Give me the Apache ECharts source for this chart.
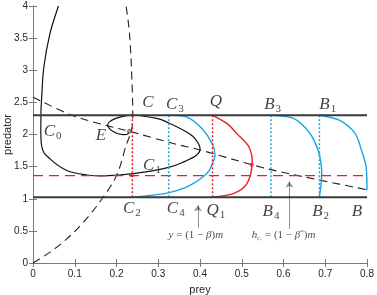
<!DOCTYPE html>
<html>
<head>
<meta charset="utf-8">
<script src="https://cdn.jsdelivr.net/npm/echarts@6/dist/echarts.min.js"></script>
<style>
  html, body { margin: 0; padding: 0; background: #fff; }
  #chart { width: 377px; height: 295px; }
</style>
</head>
<body>
<div id="chart"></div>
<script>
// levels
var upperLevel = 2.3;
var lowerLevel = 1.025;
var redLevel = 1.36;

// trajectory C0 -> C1 -> C -> E
var trajC0 = [[0.061, 4.0], [0.041, 3.58], [0.026, 3.05], [0.0205, 2.54], [0.019, 2.3], [0.021, 1.81],
  [0.041, 1.62], [0.081, 1.44], [0.129, 1.37], [0.168, 1.355], [0.24, 1.39], [0.32, 1.48],
  [0.36, 1.57], [0.392, 1.68], [0.4, 1.79], [0.386, 1.95], [0.368, 2.04], [0.325, 2.18],
  [0.296, 2.25], [0.24, 2.3], [0.208, 2.27], [0.184, 2.2], [0.18, 2.12], [0.2, 2.02], [0.224, 2.0],
  [0.23, 2.04]];

// nullclines (dashed)
var nullDecr = [[0, 2.58], [0.093, 2.3], [0.176, 2.14], [0.231, 2.05], [0.336, 1.86], [0.4, 1.76],
  [0.524, 1.53], [0.592, 1.42], [0.687, 1.29], [0.8, 1.14]];
var nullRise = [[0, 0], [0.041, 0.17], [0.081, 0.375], [0.12, 0.63], [0.16, 0.95], [0.2, 1.36],
  [0.223, 1.83], [0.235, 2.05], [0.239, 2.3], [0.236, 3.0], [0.231, 3.58], [0.223, 4.0]];

// impulsive orbits
var curveC3 = [[0.325, 2.3], [0.369, 2.27], [0.405, 2.09], [0.429, 1.86], [0.436, 1.68], [0.428, 1.52],
  [0.416, 1.39], [0.376, 1.21], [0.328, 1.1], [0.28, 1.05], [0.24, 1.025]];
var curveQ = [[0.43, 2.3], [0.465, 2.17], [0.489, 2.01], [0.517, 1.81], [0.525, 1.55], [0.512, 1.23],
  [0.48, 1.08], [0.432, 1.025]];
var curveB3 = [[0.57, 2.3], [0.624, 2.25], [0.663, 2.02], [0.683, 1.75], [0.691, 1.49], [0.691, 1.29],
  [0.686, 1.025]];
var curveB1 = [[0.686, 2.3], [0.735, 2.22], [0.771, 2.02], [0.787, 1.75], [0.798, 1.49], [0.8, 1.13]];

var redDotX = [0.238, 0.43];
var blueDotX = [0.325, 0.57, 0.686];

var pointE = [0.231, 2.05];
var redMarks = [[0.524, 1.53]];
var redArrowMark = [[0.238, 1.38]];

var labels = [
  ['C', '0', 0.047, 2.05], ['E', '', 0.163, 1.99], ['C', '', 0.275, 2.5], ['C', '3', 0.34, 2.47],
  ['Q', '', 0.438, 2.52], ['B', '3', 0.574, 2.47], ['B', '1', 0.706, 2.47], ['C', '1', 0.285, 1.52],
  ['C', '2', 0.237, 0.85], ['C', '4', 0.342, 0.85], ['Q', '1', 0.438, 0.82], ['B', '4', 0.57, 0.8],
  ['B', '2', 0.689, 0.8], ['B', '', 0.776, 0.8]
];
var formulas = [
  ['{i|y}{r| = (1 − }{i|β}{r|)}{i|m}', 0.39, 0.43],
  ['{i|h}{ss|C₁}{r| = (1 − }{i|β}{sup|*}{r|)}{i|m}', 0.6, 0.43]
];
var arrows = [[[0.395, 0.55], [0.395, 0.9]], [[0.614, 0.53], [0.614, 1.27]]];

var blue = '#1ba3e6';
var red = '#ec1c24';
var serif = 'Liberation Serif';

function hline(y) { return [[0, y], [0.8, y]]; }
function vline(x) { return [[x, upperLevel], [x, lowerLevel]]; }

function lineSeries(data, color, width, type) {
  return {
    type: 'line', data: data, symbol: 'none', silent: true,
    lineStyle: { color: color, width: width, type: type || 'solid' }, z: 3
  };
}

// smooth curve through the read points (Catmull-Rom), positioned by the axes
function curveSeries(points, color, width, dash) {
  return {
    type: 'custom', silent: true, z: 3, data: points,
    renderItem: function (params, api) {
      if (params.dataIndex !== 0) return;
      var p = points.map(function (d) { return api.coord(d); });
      var path = 'M' + p[0][0] + ' ' + p[0][1];
      for (var i = 0; i < p.length - 1; i++) {
        var p0 = p[i - 1] || p[i], p1 = p[i], p2 = p[i + 1], p3 = p[i + 2] || p[i + 1];
        var c1x = p1[0] + (p2[0] - p0[0]) / 6, c1y = p1[1] + (p2[1] - p0[1]) / 6;
        var c2x = p2[0] - (p3[0] - p1[0]) / 6, c2y = p2[1] - (p3[1] - p1[1]) / 6;
        path += ' C' + c1x + ' ' + c1y + ' ' + c2x + ' ' + c2y + ' ' + p2[0] + ' ' + p2[1];
      }
      return {
        type: 'path', shape: { pathData: path },
        style: { fill: null, stroke: color, lineWidth: width, lineDash: dash || null }
      };
    }
  };
}

var series = [];
series.push(lineSeries(hline(redLevel), red, 1.4, [10, 6]));
series.push(curveSeries(nullDecr, '#222', 1.1, [8, 5]));
series.push(curveSeries(nullRise, '#222', 1.1, [8, 5]));
redDotX.forEach(function (x) { series.push(lineSeries(vline(x), red, 1.5, [2, 2])); });
blueDotX.forEach(function (x) { series.push(lineSeries(vline(x), blue, 1.5, [2, 2])); });
series.push(lineSeries(hline(upperLevel), '#3a3a3a', 2));
series.push(lineSeries(hline(lowerLevel), '#3a3a3a', 2));
series.push(curveSeries(trajC0, '#111', 1.2));
series.push(curveSeries(curveC3, blue, 1.4));
series.push(curveSeries(curveQ, red, 1.4));
series.push(curveSeries(curveB3, blue, 1.4));
series.push(curveSeries(curveB1, blue, 1.4));

series.push({
  type: 'scatter', data: [pointE], symbol: 'circle', symbolSize: 4, silent: true, z: 5,
  itemStyle: { color: '#888', borderColor: '#333', borderWidth: 0.6 }
});
series.push({
  type: 'scatter', data: redMarks, symbol: 'circle', symbolSize: 4, silent: true, z: 5,
  itemStyle: { color: red }
});
series.push({
  type: 'scatter', data: redArrowMark, symbol: 'triangle', symbolSize: 5, silent: true, z: 5,
  itemStyle: { color: red }
});

series.push({
  type: 'lines', coordinateSystem: 'cartesian2d', silent: true, z: 4,
  symbol: ['none', 'arrow'], symbolSize: 6,
  lineStyle: { color: '#222', width: 1 },
  data: arrows.map(function (a) { return { coords: a }; })
});

series.push({
  type: 'scatter', symbolSize: 0, silent: true, z: 6,
  data: labels.map(function (l) { return { value: [l[2], l[3]], name: l[0], sub: l[1] }; }),
  label: {
    show: true, position: 'inside',
    formatter: function (p) {
      return '{m|' + p.data.name + '}' + (p.data.sub ? '{s|' + p.data.sub + '}' : '');
    },
    rich: {
      m: { fontFamily: serif, fontStyle: 'italic', fontSize: 17, color: '#111' },
      s: { fontFamily: serif, fontSize: 11, color: '#111', padding: [10, 0, 0, 1] }
    }
  }
});
series.push({
  type: 'scatter', symbolSize: 0, silent: true, z: 6,
  data: formulas.map(function (f) { return { value: [f[1], f[2]], name: f[0] }; }),
  label: {
    show: true, position: 'inside',
    formatter: function (p) { return p.data.name; },
    rich: {
      i: { fontFamily: serif, fontStyle: 'italic', fontSize: 11, color: '#222' },
      r: { fontFamily: serif, fontSize: 11, color: '#222' },
      ss: { fontFamily: serif, fontSize: 5, color: '#222', padding: [7, 0, 0, 0] },
      sup: { fontFamily: serif, fontSize: 7, color: '#222', padding: [0, 0, 6, 0] }
    }
  }
});

var axisColor = '#7a7a7a';
var labelStyle = { color: '#262626', fontSize: 10, fontFamily: 'Liberation Sans' };

var option = {
  animation: false,
  grid: { left: 33, right: 10, top: 6, bottom: 32, outerBoundsMode: 'none', containLabel: false },
  xAxis: [{
    type: 'value', min: 0, max: 0.8, interval: 0.1, position: 'bottom',
    name: 'prey', nameLocation: 'middle', nameGap: 27, nameMoveOverlap: false,
    nameTextStyle: { color: '#262626', fontSize: 11, fontFamily: 'Liberation Sans', verticalAlign: 'middle' },
    axisLine: { show: true, lineStyle: { color: axisColor, width: 1 } },
    axisTick: { inside: true, length: 4, lineStyle: { color: axisColor } },
    axisLabel: Object.assign({ margin: 6 }, labelStyle),
    splitLine: { show: false }
  }, {
    type: 'value', min: 0, max: 0.8, interval: 0.1, position: 'top',
    axisLine: { show: true, lineStyle: { color: axisColor, width: 1 } },
    axisTick: { inside: true, length: 4, lineStyle: { color: axisColor } },
    axisLabel: { show: false }, splitLine: { show: false }
  }],
  yAxis: [{
    type: 'value', min: 0, max: 4, interval: 0.5, position: 'left',
    name: 'predator', nameLocation: 'middle', nameGap: 25, nameMoveOverlap: false,
    nameTextStyle: { color: '#262626', fontSize: 11, fontFamily: 'Liberation Sans', verticalAlign: 'middle' },
    axisLine: { show: true, lineStyle: { color: axisColor, width: 1 } },
    axisTick: { inside: true, length: 4, lineStyle: { color: axisColor } },
    axisLabel: Object.assign({ margin: 5 }, labelStyle),
    splitLine: { show: false }
  }, {
    type: 'value', min: 0, max: 4, interval: 0.5, position: 'right',
    axisLine: { show: true, lineStyle: { color: axisColor, width: 1 } },
    axisTick: { inside: true, length: 4, lineStyle: { color: axisColor } },
    axisLabel: { show: false }, splitLine: { show: false }
  }],
  series: series
};

var myChart = echarts.init(document.getElementById('chart'));
myChart.setOption(option, true);
</script>
</body>
</html>
